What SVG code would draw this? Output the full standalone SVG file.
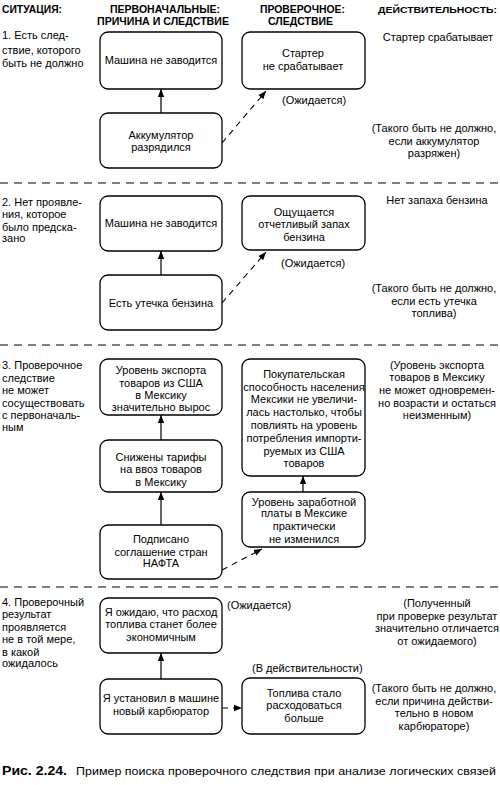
<svg xmlns="http://www.w3.org/2000/svg" width="500" height="785" viewBox="0 0 500 785">
<defs>
<style>
text{font-family:"Liberation Sans","Noto Sans",sans-serif;font-size:11px;fill:#000}
.h{font-weight:bold}
.c{text-anchor:middle}
.box{fill:#fff;stroke:#000;stroke-width:1.3}
.sep{stroke:#000;stroke-width:1.2;stroke-dasharray:8 6;fill:none}
.ar{stroke:#000;stroke-width:1.2;fill:none;marker-end:url(#ah)}
.da{stroke:#000;stroke-width:1.1;fill:none;stroke-dasharray:6 5;marker-end:url(#ah)}
.cap{font-size:12px}
</style>
<marker id="ah" viewBox="0 0 10 10" refX="10" refY="5" markerWidth="8" markerHeight="8" markerUnits="userSpaceOnUse" orient="auto"><path d="M0,1 L10,5 L0,9 z" fill="#000"/></marker>
</defs>
<rect width="500" height="785" fill="#fff"/>

<g id="headers">
<text class="h" x="2" y="13" textLength="60" lengthAdjust="spacingAndGlyphs">СИТУАЦИЯ:</text>
<text class="h" x="110" y="13" textLength="110" lengthAdjust="spacingAndGlyphs">ПЕРВОНАЧАЛЬНЫЕ:</text>
<text class="h" x="97" y="25" textLength="132" lengthAdjust="spacingAndGlyphs">ПРИЧИНА И СЛЕДСТВИЕ</text>
<text class="h" x="260" y="13" textLength="85" lengthAdjust="spacingAndGlyphs">ПРОВЕРОЧНОЕ:</text>
<text class="h" x="268" y="25" textLength="65" lengthAdjust="spacingAndGlyphs">СЛЕДСТВИЕ</text>
<text class="h" x="378" y="13" style="font-size:9.5px" textLength="119" lengthAdjust="spacingAndGlyphs">ДЕЙСТВИТЕЛЬНОСТЬ:</text>
</g>

<g id="separators">
<line class="sep" x1="0" y1="183" x2="500" y2="183"/>
<line class="sep" x1="0" y1="345" x2="500" y2="345"/>
<line class="sep" x1="0" y1="587" x2="500" y2="587"/>
</g>

<g id="connectors">
<line class="ar" x1="161" y1="113" x2="161" y2="89"/>
<line class="da" x1="222" y1="143" x2="266" y2="91"/>
<line class="ar" x1="161" y1="275" x2="161" y2="251"/>
<line class="da" x1="222" y1="303" x2="266" y2="252"/>
<line class="ar" x1="161" y1="440" x2="161" y2="415"/>
<line class="ar" x1="161" y1="525" x2="161" y2="492"/>
<line class="ar" x1="303" y1="492" x2="303" y2="476"/>
<line class="da" x1="222" y1="570" x2="262" y2="549"/>
<line class="ar" x1="161" y1="679" x2="161" y2="653"/>
<line class="da" x1="222" y1="708" x2="242" y2="708"/>
</g>

<!-- Section 1 -->
<g id="sit1">
<text x="2" y="39">1. Есть след-</text>
<text x="2" y="54">ствие, которого</text>
<text x="2" y="67">быть не должно</text>
</g>
<g id="n1a"><rect class="box" x="100" y="32" width="122" height="57" rx="8"/><text class="c" x="161" y="64">Машина не заводится</text></g>
<g id="n1b"><rect class="box" x="100" y="113" width="122" height="55" rx="8"/><text class="c" x="161" y="139">Аккумулятор</text><text class="c" x="161" y="151">разрядился</text></g>
<g id="n1c"><rect class="box" x="242" y="32" width="123" height="57" rx="8"/><text class="c" x="303" y="57">Стартер</text><text class="c" x="303" y="70">не срабатывает</text></g>
<text x="282" y="104">(Ожидается)</text>
<g id="r1">
<text class="c" x="438" y="41">Стартер срабатывает</text>
<text class="c" x="434" y="132">(Такого быть не должно,</text>
<text class="c" x="434" y="145">если аккумулятор</text>
<text class="c" x="434" y="157">разряжен)</text>
</g>

<!-- Section 2 -->
<g id="sit2">
<text x="2" y="206">2. Нет проявле-</text>
<text x="2" y="218">ния, которое</text>
<text x="2" y="231">было предска-</text>
<text x="2" y="242">зано</text>
</g>
<g id="n2a"><rect class="box" x="100" y="196" width="122" height="55" rx="8"/><text class="c" x="161" y="227">Машина не заводится</text></g>
<g id="n2b"><rect class="box" x="100" y="275" width="122" height="55" rx="8"/><text class="c" x="161" y="307">Есть утечка бензина</text></g>
<g id="n2c"><rect class="box" x="242" y="196" width="123" height="54" rx="8"/><text class="c" x="304" y="216">Ощущается</text><text class="c" x="304" y="228">отчетливый запах</text><text class="c" x="304" y="241">бензина</text></g>
<text x="281" y="267">(Ожидается)</text>
<g id="r2">
<text class="c" x="437" y="204">Нет запаха бензина</text>
<text class="c" x="434" y="292">(Такого быть не должно,</text>
<text class="c" x="434" y="305">если есть утечка</text>
<text class="c" x="434" y="317">топлива)</text>
</g>

<!-- Section 3 -->
<g id="sit3">
<text x="2" y="369">3. Проверочное</text>
<text x="2" y="382">следствие</text>
<text x="2" y="394">не может</text>
<text x="2" y="407">сосуществовать</text>
<text x="2" y="419">с первоначаль-</text>
<text x="2" y="431">ным</text>
</g>
<g id="n3a"><rect class="box" x="100" y="359" width="122" height="56" rx="8"/><text class="c" x="161" y="374">Уровень экспорта</text><text class="c" x="161" y="387">товаров из США</text><text class="c" x="161" y="399">в Мексику</text><text class="c" x="161" y="411">значительно вырос</text></g>
<g id="n3b"><rect class="box" x="100" y="440" width="122" height="52" rx="8"/><text class="c" x="161" y="461">Снижены тарифы</text><text class="c" x="161" y="473">на ввоз товаров</text><text class="c" x="161" y="486">в Мексику</text></g>
<g id="n3c"><rect class="box" x="100" y="525" width="122" height="54" rx="8"/><text class="c" x="161" y="543">Подписано</text><text class="c" x="161" y="556">соглашение стран</text><text class="c" x="161" y="567">НАФТА</text></g>
<g id="n3d"><rect class="box" x="242" y="359" width="123" height="117" rx="8"/>
<text class="c" x="304" y="378">Покупательская</text>
<text class="c" x="304" y="391">способность населения</text>
<text class="c" x="304" y="403">Мексики не увеличи-</text>
<text class="c" x="304" y="416">лась настолько, чтобы</text>
<text class="c" x="304" y="429">повлиять на уровень</text>
<text class="c" x="304" y="442">потребления импорти-</text>
<text class="c" x="304" y="455">руемых из США</text>
<text class="c" x="304" y="467">товаров</text></g>
<g id="n3e"><rect class="box" x="242" y="492" width="123" height="55" rx="8"/><text class="c" x="304" y="506">Уровень заработной</text><text class="c" x="304" y="517">платы в Мексике</text><text class="c" x="304" y="530">практически</text><text class="c" x="304" y="543">не изменился</text></g>
<g id="r3">
<text class="c" x="437" y="369">(Уровень экспорта</text>
<text class="c" x="437" y="381">товаров в Мексику</text>
<text class="c" x="437" y="394">не может одновремен-</text>
<text class="c" x="437" y="407">но возрасти и остаться</text>
<text class="c" x="437" y="419">неизменным)</text>
</g>

<!-- Section 4 -->
<g id="sit4">
<text x="2" y="606">4. Проверочный</text>
<text x="2" y="618">результат</text>
<text x="2" y="631">проявляется</text>
<text x="2" y="643">не в той мере,</text>
<text x="2" y="656">в какой</text>
<text x="2" y="667">ожидалось</text>
</g>
<g id="n4a"><rect class="box" x="100" y="598" width="122" height="55" rx="8"/><text class="c" x="161" y="616">Я ожидаю, что расход</text><text class="c" x="161" y="628">топлива станет более</text><text class="c" x="161" y="641">экономичным</text></g>
<g id="n4b"><rect class="box" x="100" y="679" width="122" height="55" rx="8"/><text class="c" x="161" y="702">Я установил в машине</text><text class="c" x="161" y="715">новый карбюратор</text></g>
<g id="n4c"><rect class="box" x="242" y="678" width="123" height="56" rx="8"/><text class="c" x="304" y="697">Топлива стало</text><text class="c" x="304" y="709">расходоваться</text><text class="c" x="304" y="722">больше</text></g>
<text x="227" y="609">(Ожидается)</text>
<text x="252" y="672">(В действительности)</text>
<g id="r4">
<text class="c" x="437" y="607">(Полученный</text>
<text class="c" x="437" y="620">при проверке результат</text>
<text class="c" x="437" y="632">значительно отличается</text>
<text class="c" x="437" y="645">от ожидаемого)</text>
<text class="c" x="434" y="692">(Такого быть не должно,</text>
<text class="c" x="434" y="705">если причина действи-</text>
<text class="c" x="434" y="717">тельно в новом</text>
<text class="c" x="434" y="730">карбюраторе)</text>
</g>

<g id="caption">
<text class="cap h" x="2" y="775" textLength="65" lengthAdjust="spacingAndGlyphs">Рис. 2.24.</text>
<text class="cap" x="76" y="775" style="font-size:11.5px" textLength="420" lengthAdjust="spacingAndGlyphs">Пример поиска проверочного следствия при анализе логических связей</text>
</g>
</svg>
